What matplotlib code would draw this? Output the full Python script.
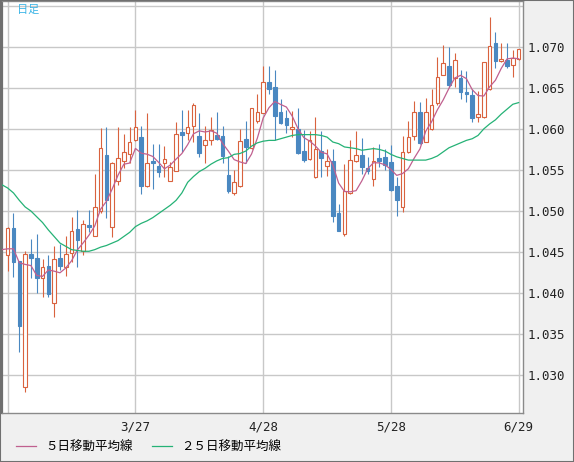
import numpy as np
import pandas as pd
import matplotlib
matplotlib.use("Agg")
import matplotlib.pyplot as plt
from matplotlib.patches import Rectangle

# ---- data (daily OHLC) ----
opens = [1.0446, 1.0479, 1.0439, 1.0286, 1.0448, 1.0443, 1.0419, 1.0433, 1.0388, 1.0443,
         1.0432, 1.0449, 1.0478, 1.0451, 1.0483, 1.0470, 1.0500, 1.0568, 1.0481, 1.0537,
         1.0561, 1.0569, 1.0586, 1.0590, 1.0530, 1.0561, 1.0555, 1.0559, 1.0537, 1.0549,
         1.0596, 1.0595, 1.0603, 1.0591, 1.0580, 1.0587, 1.0593, 1.0591, 1.0544, 1.0522,
         1.0530, 1.0588, 1.0577, 1.0610, 1.0619, 1.0657, 1.0651, 1.0620, 1.0613, 1.0600,
         1.0600, 1.0573, 1.0563, 1.0541, 1.0573, 1.0555, 1.0561, 1.0498, 1.0472, 1.0522,
         1.0561, 1.0568, 1.0552, 1.0539, 1.0564, 1.0566, 1.0560, 1.0530, 1.0505, 1.0572,
         1.0591, 1.0621, 1.0584, 1.0600, 1.0632, 1.0666, 1.0677, 1.0662, 1.0662, 1.0645,
         1.0641, 1.0615, 1.0614, 1.0649, 1.0705, 1.0683, 1.0684, 1.0678, 1.0685]
highs = [1.0481, 1.0497, 1.0439, 1.0451, 1.0466, 1.0472, 1.0442, 1.0446, 1.0457, 1.0460,
         1.0470, 1.0493, 1.0501, 1.0489, 1.0501, 1.0545, 1.0601, 1.0602, 1.0560, 1.0602,
         1.0594, 1.0602, 1.0623, 1.0604, 1.0619, 1.0582, 1.0582, 1.0579, 1.0560, 1.0608,
         1.0623, 1.0623, 1.0631, 1.0619, 1.0604, 1.0615, 1.0621, 1.0603, 1.0567, 1.0550,
         1.0600, 1.0609, 1.0626, 1.0642, 1.0676, 1.0677, 1.0672, 1.0636, 1.0623, 1.0622,
         1.0625, 1.0599, 1.0597, 1.0614, 1.0597, 1.0576, 1.0576, 1.0509, 1.0557, 1.0587,
         1.0597, 1.0589, 1.0566, 1.0578, 1.0582, 1.0576, 1.0580, 1.0542, 1.0591, 1.0609,
         1.0634, 1.0633, 1.0638, 1.0649, 1.0688, 1.0702, 1.0700, 1.0692, 1.0672, 1.0671,
         1.0649, 1.0646, 1.0682, 1.0736, 1.0718, 1.0705, 1.0705, 1.0696, 1.0697]
lows = [1.0427, 1.0420, 1.0328, 1.0280, 1.0418, 1.0400, 1.0395, 1.0395, 1.0371, 1.0428,
        1.0421, 1.0438, 1.0432, 1.0446, 1.0474, 1.0469, 1.0498, 1.0492, 1.0468, 1.0532,
        1.0552, 1.0559, 1.0585, 1.0521, 1.0529, 1.0527, 1.0542, 1.0542, 1.0537, 1.0549,
        1.0572, 1.0586, 1.0584, 1.0566, 1.0559, 1.0580, 1.0586, 1.0558, 1.0522, 1.0519,
        1.0529, 1.0559, 1.0576, 1.0607, 1.0619, 1.0642, 1.0587, 1.0606, 1.0595, 1.0590,
        1.0570, 1.0560, 1.0562, 1.0540, 1.0542, 1.0543, 1.0487, 1.0476, 1.0469, 1.0521,
        1.0560, 1.0545, 1.0545, 1.0530, 1.0554, 1.0550, 1.0524, 1.0494, 1.0499, 1.0571,
        1.0587, 1.0582, 1.0584, 1.0599, 1.0629, 1.0665, 1.0651, 1.0651, 1.0636, 1.0633,
        1.0608, 1.0608, 1.0613, 1.0647, 1.0674, 1.0682, 1.0674, 1.0663, 1.0684]
closes = [1.0479, 1.0438, 1.0360, 1.0448, 1.0443, 1.0419, 1.0432, 1.0399, 1.0441, 1.0433,
          1.0448, 1.0476, 1.0465, 1.0484, 1.0480, 1.0505, 1.0577, 1.0513, 1.0559, 1.0564,
          1.0572, 1.0584, 1.0602, 1.0530, 1.0558, 1.0558, 1.0548, 1.0563, 1.0553, 1.0594,
          1.0592, 1.0602, 1.0629, 1.0571, 1.0587, 1.0599, 1.0588, 1.0567, 1.0524, 1.0535,
          1.0585, 1.0578, 1.0625, 1.0621, 1.0657, 1.0648, 1.0616, 1.0607, 1.0605, 1.0602,
          1.0571, 1.0562, 1.0586, 1.0575, 1.0564, 1.0561, 1.0494, 1.0476, 1.0524, 1.0562,
          1.0568, 1.0554, 1.0549, 1.0561, 1.0561, 1.0556, 1.0526, 1.0513, 1.0572, 1.0590,
          1.0620, 1.0583, 1.0621, 1.0629, 1.0663, 1.0680, 1.0654, 1.0684, 1.0645, 1.0643,
          1.0613, 1.0618, 1.0681, 1.0701, 1.0683, 1.0685, 1.0676, 1.0686, 1.0697]

# 5-day MA values before enough closes are visible (index -1..3)
ma5_head = [1.0453, 1.0454, 1.0454, 1.0437, 1.0435]
# 25-day MA, index -1..88
ma25 = [1.0532, 1.0528, 1.0522, 1.0513, 1.0505, 1.0500, 1.0493, 1.0486, 1.0477, 1.0469,
        1.0461, 1.0457, 1.0453, 1.0452, 1.0451, 1.0451, 1.0453, 1.0456, 1.0458, 1.0461,
        1.0464, 1.0469, 1.0474, 1.0481, 1.0485, 1.0488, 1.0492, 1.0497, 1.0502, 1.0507,
        1.0513, 1.0522, 1.0535, 1.0542, 1.0548, 1.0552, 1.0557, 1.0561, 1.0564, 1.0565,
        1.0569, 1.0570, 1.0573, 1.0579, 1.0583, 1.0585, 1.0586, 1.0586, 1.0588, 1.0590,
        1.0592, 1.0593, 1.0593, 1.0593, 1.0593, 1.0592, 1.0590, 1.0584, 1.0582, 1.0578,
        1.0577, 1.0576, 1.0574, 1.0575, 1.0576, 1.0575, 1.0573, 1.0569, 1.0566, 1.0564,
        1.0562, 1.0562, 1.0562, 1.0562, 1.0564, 1.0567, 1.0572, 1.0577, 1.0580, 1.0583,
        1.0586, 1.0588, 1.0592, 1.0600, 1.0606, 1.0611, 1.0618, 1.0624, 1.0630, 1.0632]

tick_pos = [0, 22, 44, 66, 88]
tick_labels = ["", "3/27", "4/28", "5/28", "6/29"]
y_ticks = [1.030, 1.035, 1.040, 1.045, 1.050, 1.055, 1.060, 1.065, 1.070, 1.075]
y_labels = ["1.030", "1.035", "1.040", "1.045", "1.050", "1.055", "1.060", "1.065", "1.070", ""]

legend_ma5 = "５日移動平均線"
legend_ma25 = "２５日移動平均線"
title_text = "日足"

# ---- styles ----
up_color = "#d9623e"
down_color = "#4a88c1"
ma5_color = "#c0608f"
ma25_color = "#25b276"
grid_color = "#c8c8c8"
cjk = ["Noto Sans CJK JP", "DejaVu Sans"]
mono = "DejaVu Sans Mono"

o = np.array(opens); h = np.array(highs); l = np.array(lows); c = np.array(closes)
x = np.arange(len(o))
up = c >= o

ma5_tail = pd.Series(c).rolling(5).mean().to_numpy()[4:]
ma5 = np.concatenate([ma5_head, ma5_tail])
x_ma = np.arange(-1, len(o))

fig = plt.figure(figsize=(5.74, 4.62), dpi=100, facecolor="#f0f0f0")
ax = fig.add_axes([2 / 574, 49 / 462, 521 / 574, 412 / 462])
ax.set_facecolor("white")

# candles
colors = np.where(up, up_color, down_color)
ax.vlines(x, l, h, colors=colors, linewidth=0.8, zorder=2)
bottoms = np.minimum(o, c)
heights = np.abs(c - o)
ax.bar(x[up], heights[up], bottom=bottoms[up], width=0.62,
       facecolor="white", edgecolor=up_color, linewidth=0.8, zorder=2.5)
ax.bar(x[~up], heights[~up], bottom=bottoms[~up], width=0.62,
       facecolor=down_color, edgecolor=down_color, linewidth=0.8, zorder=2.5)

# moving averages
l5, = ax.plot(x_ma, ma5, color=ma5_color, linewidth=0.9, zorder=3, label=legend_ma5)
l25, = ax.plot(x_ma, ma25, color=ma25_color, linewidth=0.9, zorder=3, label=legend_ma25)

ax.set_xlim(-0.98, 88.75)
ax.set_ylim(1.02541, 1.07557)

ax.set_xticks(tick_pos)
ax.set_xticklabels(tick_labels, fontfamily=mono, fontsize=9, color="#222222")
ax.set_yticks(y_ticks)
ax.set_yticklabels(y_labels, fontfamily=mono, fontsize=9, color="#222222")
ax.yaxis.tick_right()
ax.tick_params(axis="y", length=0, pad=3)
ax.tick_params(axis="x", length=0, pad=5.5)
ax.grid(True, color=grid_color, linewidth=1.0)
ax.set_axisbelow(True)

for name, sp in ax.spines.items():
    sp.set_color("#8a8a8a")
    sp.set_linewidth(1.0)
ax.spines["left"].set_color("#707070")
ax.spines["left"].set_linewidth(1.6)

ax.text((17 - 2) / 521, 1 - 4 / 412, title_text, transform=ax.transAxes,
        ha="left", va="top", fontsize=8, color="#3ab4e6", family=cjk)

fig.legend(handles=[l5, l25], loc="center left", bbox_to_anchor=(16 / 574, 15 / 462),
           ncol=2, frameon=False, prop={"family": cjk, "size": 9},
           handlelength=1.6, handletextpad=0.75, columnspacing=1.5,
           borderaxespad=0, borderpad=0)

fig.patches.append(Rectangle((0, 0), 1, 1, transform=fig.transFigure, fill=False,
                             edgecolor="#707070", linewidth=1.5, zorder=10))

fig.savefig("out.png", dpi=100, facecolor=fig.get_facecolor())
